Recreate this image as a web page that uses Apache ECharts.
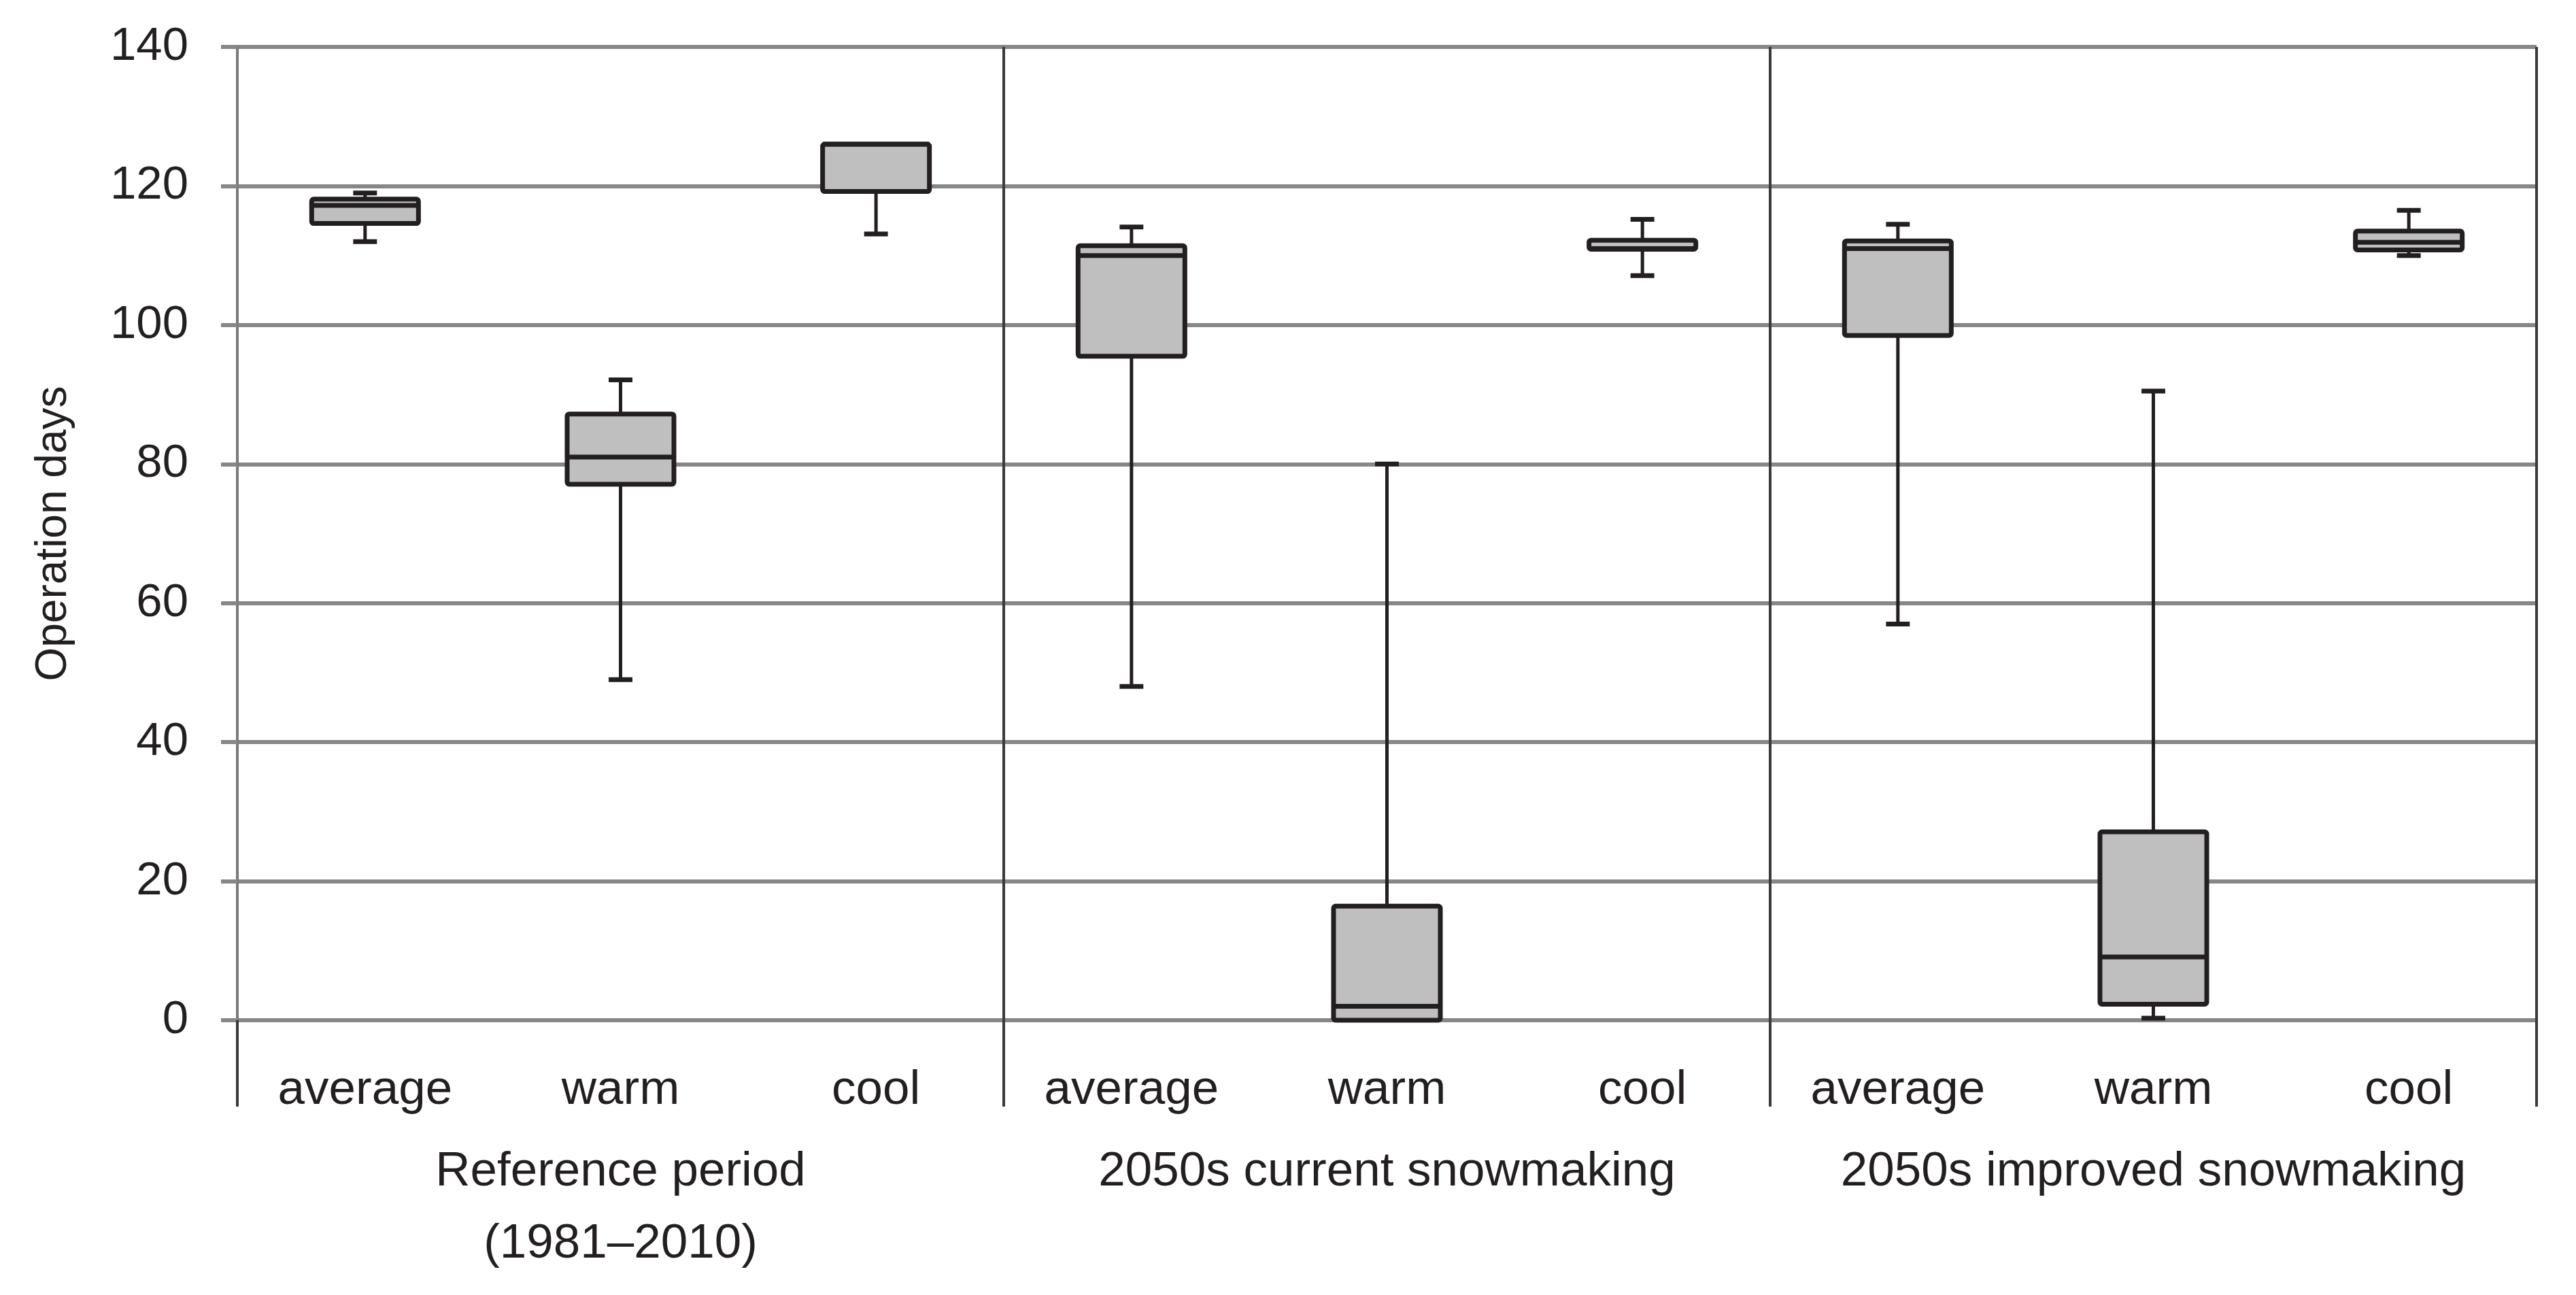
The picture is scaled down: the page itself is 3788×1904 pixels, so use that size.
<!DOCTYPE html>
<html><head><meta charset="utf-8">
<script src="https://cdn.jsdelivr.net/npm/echarts@6/dist/echarts.min.js"></script>
<style>html,body{margin:0;padding:0;background:#fff}#c{width:3788px;height:1904px}</style>
</head><body><div id="c"></div>
<script>
const categories = ['average','warm','cool','average','warm','cool','average','warm','cool'];
const groups = ['Reference period\n(1981–2010)', '2050s current snowmaking', '2050s improved snowmaking'];
const whiskerLow  = [112.0, 49.0, 113.1, 48.0, 0.0, 107.1, 57.0, 0.3, 110.0];
const q1          = [114.6, 77.1, 119.2, 95.5, 0.0, 110.9, 98.5, 2.3, 110.8];
const median      = [117.2, 81.0, 126.0, 110.0, 2.0, 111.0, 111.0, 9.1, 111.9];
const q3          = [118.1, 87.2, 126.0, 111.4, 16.4, 112.2, 112.1, 27.1, 113.5];
const whiskerHigh = [119.0, 92.1, 126.0, 114.1, 80.0, 115.2, 114.5, 90.5, 116.5];

const FONT = 'Liberation Sans';
const TXT = '#231f20';
const DARK = '#231f20';
const GRID = '#878787';

const boxData = categories.map((c, i) => [i, whiskerLow[i], q1[i], median[i], q3[i], whiskerHigh[i]]);

const chart = echarts.init(document.getElementById('c'), null, {renderer: 'canvas'});
chart.setOption({
  animation: false,
  backgroundColor: '#ffffff',
  grid: {left: 349, right: 58, top: 69, bottom: 404, containLabel: false},
  xAxis: [{
    type: 'category', data: categories, position: 'bottom', offset: 0,
    axisLine: {show: false}, axisTick: {show: false}, splitLine: {show: false},
    axisLabel: {fontFamily: FONT, fontSize: 71, color: TXT, margin: 68, interval: 0}
  }, {
    type: 'category', data: groups, position: 'bottom', offset: 0,
    axisLine: {show: false},
    axisTick: {show: true, length: 127, alignWithLabel: false, interval: 0, lineStyle: {color: '#3a3a3a', width: 4}},
    splitLine: {show: true, interval: 0, lineStyle: {color: '#3a3a3a', width: 4}},
    axisLabel: {fontFamily: FONT, fontSize: 71, color: TXT, margin: 170, lineHeight: 106, interval: 0}
  }],
  yAxis: {
    type: 'value', min: 0, max: 140, interval: 20,
    name: 'Operation days', nameLocation: 'middle', nameGap: 238, nameRotate: 90,
    nameTextStyle: {fontFamily: FONT, fontSize: 64, color: TXT},
    axisLine: {show: true, lineStyle: {color: '#7a7a7a', width: 4}},
    axisTick: {show: true, length: 24, lineStyle: {color: GRID, width: 6}},
    splitLine: {show: true, lineStyle: {color: GRID, width: 6}},
    axisLabel: {fontFamily: FONT, fontSize: 69, color: TXT, margin: 72}
  },
  series: [{
    type: 'custom',
    xAxisIndex: 0, yAxisIndex: 0,
    data: boxData,
    encode: {x: 0, y: [1, 2, 3, 4, 5]},
    clip: false,
    z: 5,
    renderItem: function (params, api) {
      const x = api.value(0);
      const lo = api.value(1), a = api.value(2), m = api.value(3), b = api.value(4), hi = api.value(5);
      const pLo = api.coord([x, lo]);
      const pQ1 = api.coord([x, a]);
      const pMed = api.coord([x, m]);
      const pQ3 = api.coord([x, b]);
      const pHi = api.coord([x, hi]);
      const band = api.size([1, 0])[0];
      const bw = band * 0.418;
      const cw = band * 0.093;
      const cx = pQ1[0];
      const wStyle = {stroke: DARK, lineWidth: 5, fill: null};
      const capStyle = {stroke: DARK, lineWidth: 7, fill: null};
      const children = [];
      if (hi > b) {
        children.push({type: 'line', shape: {x1: cx, y1: pQ3[1], x2: cx, y2: pHi[1]}, style: wStyle});
        children.push({type: 'line', shape: {x1: cx - cw / 2, y1: pHi[1], x2: cx + cw / 2, y2: pHi[1]}, style: capStyle});
      }
      if (lo < a) {
        children.push({type: 'line', shape: {x1: cx, y1: pQ1[1], x2: cx, y2: pLo[1]}, style: wStyle});
        children.push({type: 'line', shape: {x1: cx - cw / 2, y1: pLo[1], x2: cx + cw / 2, y2: pLo[1]}, style: capStyle});
      }
      children.push({type: 'rect', shape: {x: cx - bw / 2, y: pQ3[1], width: bw, height: pQ1[1] - pQ3[1], r: 3},
        style: {fill: '#bfbfbf', stroke: DARK, lineWidth: 7, lineJoin: 'round'}});
      children.push({type: 'line', shape: {x1: cx - bw / 2, y1: pMed[1], x2: cx + bw / 2, y2: pMed[1]},
        style: {stroke: DARK, lineWidth: 7}});
      return {type: 'group', children: children};
    }
  }]
});
</script></body></html>
